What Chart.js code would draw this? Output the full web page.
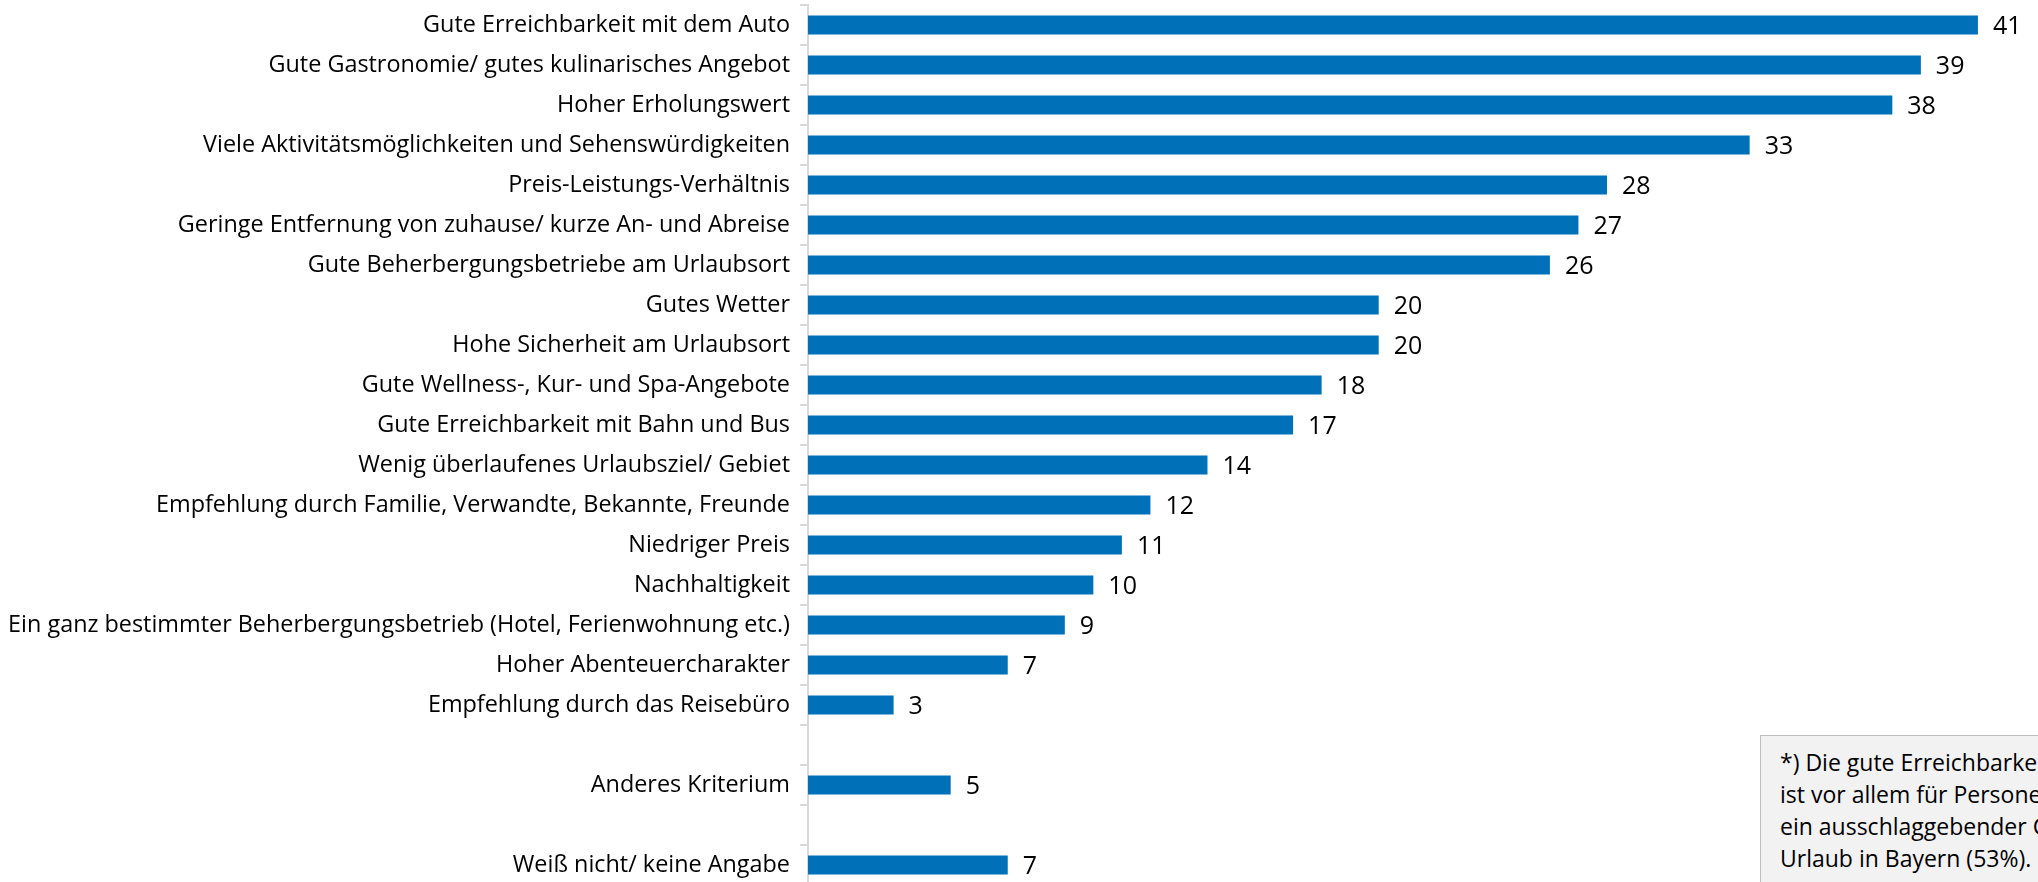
<!DOCTYPE html>
<html>
<head>
<meta charset="utf-8">
<script src="https://cdn.jsdelivr.net/npm/chart.js@4.4.1/dist/chart.umd.min.js"></script>
<style>
	html, body { margin: 0; padding: 0; background: #fff; overflow: hidden; }
	#wrap { position: relative; width: 2038px; height: 885px; }
	#note {
		position: absolute; left: 1760px; top: 735px; width: 460px; height: 200px;
		background: #f2f2f2; border: 1px solid #bfbfbf; box-sizing: border-box;
		padding: 10px 0 0 19px; font-family: "Open Sans", sans-serif; font-size: 23px;
		line-height: 32px; color: #000; white-space: nowrap;
	}
</style>
</head>
<body>
<div id="wrap">
	<canvas id="reasonsBar" width="2038" height="885"></canvas>
	<div id="note">*) Die gute Erreichbarkeit mit dem Auto<br>ist vor allem für Personen ab 60 Jahren<br>ein ausschlaggebender Grund für einen<br>Urlaub in Bayern (53%).</div>
</div>
<script>
	// Gründe für den Urlaub (Angaben in %), leere Einträge = Abstand
	var categories = [
		"Gute Erreichbarkeit mit dem Auto",
		"Gute Gastronomie/ gutes kulinarisches Angebot",
		"Hoher Erholungswert",
		"Viele Aktivitätsmöglichkeiten und Sehenswürdigkeiten",
		"Preis-Leistungs-Verhältnis",
		"Geringe Entfernung von zuhause/ kurze An- und Abreise",
		"Gute Beherbergungsbetriebe am Urlaubsort",
		"Gutes Wetter",
		"Hohe Sicherheit am Urlaubsort",
		"Gute Wellness-, Kur- und Spa-Angebote",
		"Gute Erreichbarkeit mit Bahn und Bus",
		"Wenig überlaufenes Urlaubsziel/ Gebiet",
		"Empfehlung durch Familie, Verwandte, Bekannte, Freunde",
		"Niedriger Preis",
		"Nachhaltigkeit",
		"Ein ganz bestimmter Beherbergungsbetrieb (Hotel, Ferienwohnung etc.)",
		"Hoher Abenteuercharakter",
		"Empfehlung durch das Reisebüro",
		"",
		"Anderes Kriterium",
		"",
		"Weiß nicht/ keine Angabe"
	];
	var percentValues = [41, 39, 38, 33, 28, 27, 26, 20, 20, 18, 17, 14, 12, 11, 10, 9, 7, 3, null, 5, null, 7];

	var barColor = '#0071b9';
	var fontName = '"Open Sans", sans-serif';

	var valueLabels = {
		id: 'valueLabels',
		afterDatasetsDraw: function(chart) {
			var ctx = chart.ctx;
			var meta = chart.getDatasetMeta(0);
			ctx.save();
			ctx.font = '25px ' + fontName;
			ctx.fillStyle = '#000';
			ctx.textAlign = 'left';
			ctx.textBaseline = 'middle';
			meta.data.forEach(function(bar, i) {
				var v = percentValues[i];
				if (v === null) return;
				ctx.fillText(String(v), bar.x + 15, bar.y + 2);
			});
			ctx.restore();
		}
	};

	var reasonsBar = new Chart(document.getElementById('reasonsBar'), {
		type: 'bar',
		data: {
			labels: categories,
			datasets: [{
				data: percentValues,
				backgroundColor: barColor,
				borderWidth: 0,
				barPercentage: 0.48,
				categoryPercentage: 1
			}]
		},
		options: {
			indexAxis: 'y',
			responsive: false,
			animation: false,
			layout: { padding: { top: 5, right: 3, bottom: 0, left: 0 } },
			plugins: {
				legend: { display: false },
				tooltip: { enabled: false }
			},
			scales: {
				x: {
					display: false,
					min: 0,
					max: 43
				},
				y: {
					afterFit: function(scale) {
						scale.width = 808;
						// no extra room for half label heights
						scale.paddingTop = 0;
						scale.paddingBottom = 0;
					},
					border: { display: true, color: '#d9d9d9', width: 2 },
					grid: {
						offset: true,
						drawOnChartArea: false,
						drawTicks: true,
						tickLength: 8,
						color: '#d9d9d9',
						lineWidth: 2
					},
					ticks: {
						autoSkip: false,
						padding: 10,
						color: '#000',
						font: { family: fontName, size: 23.4 }
					}
				}
			}
		},
		plugins: [valueLabels]
	});
</script>
</body>
</html>
